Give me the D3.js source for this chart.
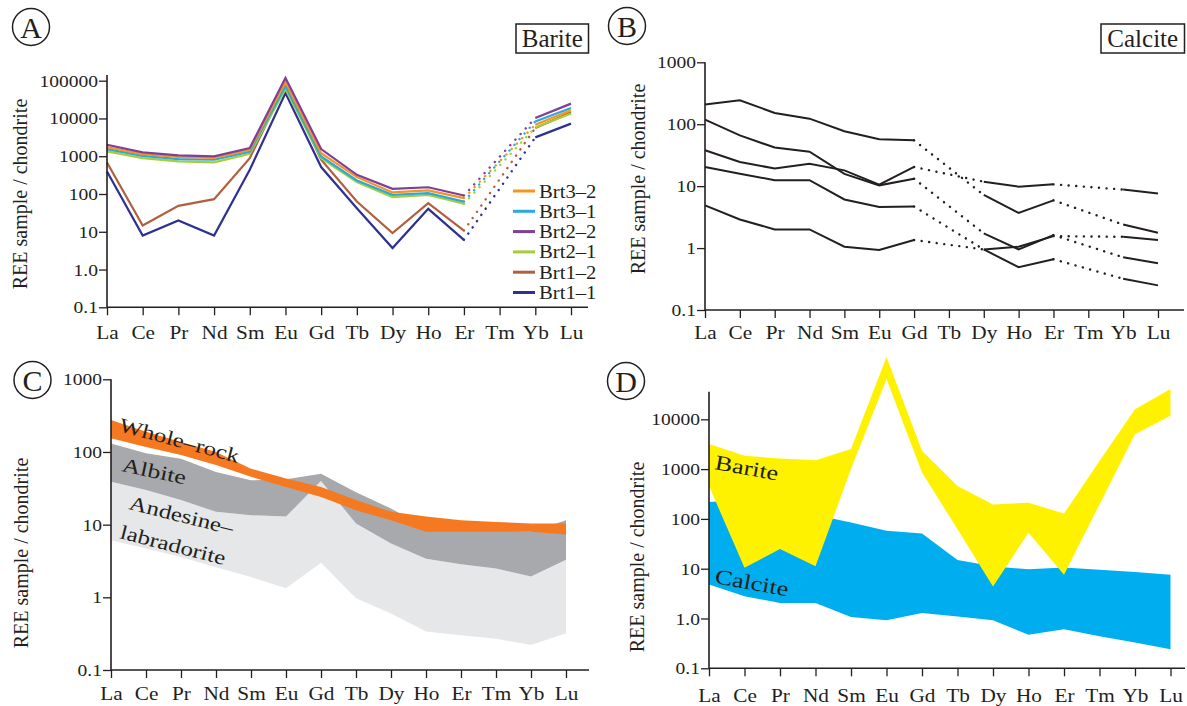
<!DOCTYPE html>
<html><head><meta charset="utf-8">
<script src="https://cdn.jsdelivr.net/npm/d3@7"></script>
<style>
body{margin:0;background:#fff;}
svg{display:block;}
</style>
</head><body>
<svg id="chart" width="1187" height="706" font-family="Liberation Serif, DejaVu Serif, serif"></svg>
<script>
// ---------- DATA ----------
const elements = ["La","Ce","Pr","Nd","Sm","Eu","Gd","Tb","Dy","Ho","Er","Tm","Yb","Lu"];

// Panel A : barite samples (Tm not analysed)
const bariteNames  = ["Brt3–2","Brt3–1","Brt2–2","Brt2–1","Brt1–2","Brt1–1"];
const bariteColors = ["#f7941d","#27aae1","#7f3f98","#a6ce39","#b0603c","#2e3192"];
const brt3_2 = [1740,1140,955,900,1480,91000,1200,280,110,124,78,null,6860,16400];
const brt3_1 = [1550,1025,840,807,1320,71000,990,229,95,105,63,null,8350,19000];
const brt2_2 = [2020,1260,1050,990,1650,118000,1550,323,137,151,91,null,10300,24700];
const brt2_1 = [1340,890,728,685,1165,60000,890,207,83,95,55,null,5800,13500];
const brt1_2 = [685,14.6,48.6,73,890,80000,807,63,9.2,57.5,10.8,null,5600,14500];
const brt1_1 = [395,7.9,19.8,7.9,438,47000,516,42,3.7,40.5,6.1,null,3160,7300];
const bariteValues = [brt3_2,brt3_1,brt2_2,brt2_1,brt1_2,brt1_1];

// Panel B : calcite samples (Tb, Tm not analysed)
const cal1 = [209,244,152,123,77,57,55,null,7.2,3.7,5.9,null,2.4,1.77];
const cal2 = [119,66,42,36,15.8,10.3,13.2,null,1.73,0.95,1.62,null,0.71,0.57];
const cal3 = [38,24.5,19.3,23,18,10.6,20.4,null,11.8,9.8,10.7,null,8.8,7.6];
const cal4 = [20.4,15.8,12.5,12.5,6.1,4.6,4.7,null,0.95,1.05,1.56,null,1.52,1.35];
const cal5 = [4.9,2.9,2.0,2.0,1.05,0.93,1.35,null,0.95,0.49,0.66,null,0.32,0.25];
const calciteValues = [cal1,cal2,cal3,cal4,cal5];

// Panel C : fields
const wholeRockUpper = [275,190,137,100,59,43,33,21.8,15,12.9,11.5,10.9,10.4,10.4];
const wholeRockLower = [154,117,91,66,45.5,33,24,15.8,11.5,8.0,8.0,8.0,8.0,7.3];
const albiteUpper    = [131,96,81,53,40.8,42,50,28,16.7,9,8.5,8.3,8,11.5];
const albiteLower    = [39,30,21.8,15,13.5,12.9,40,10.4,5.5,3.4,2.85,2.5,1.93,3.3];
const andesineLower  = [6.1,4.7,3.6,2.6,1.9,1.33,3.0,0.97,0.6,0.34,0.3,0.27,0.22,0.32];

// Panel D : fields
const bariteUpper  = [3180,1850,1630,1500,2520,178000,2330,458,195,212,128,1450,16000,40800];
const bariteLower  = [458,10.4,25,11.2,1000,64500,850,62,4.4,52.6,7.6,195,5000,11800];
const calciteUpper = [218,240,150,120,85,58,51,15,11.2,9.7,10.6,9.5,8.6,7.6];
const calciteLower = [4.8,2.8,2.05,2.05,1.07,0.92,1.29,1.1,0.92,0.47,0.61,0.44,0.33,0.24];

// ---------- DRAWING ----------
const ink = "#231f20";
const FONT = "Liberation Serif, DejaVu Serif, serif";
const svg = d3.select("#chart");

function makePanel(cfg){
  const g = svg.append("g");
  const x = d3.scalePoint().domain(elements).range([cfg.x0, cfg.x1]);
  const y = d3.scaleLog().domain(cfg.domain).range([cfg.yBot, cfg.yTop]);
  return {g, x, y, cfg};
}

function txt(sel){ return sel.attr("font-family", FONT).attr("fill", ink); }

function drawAxes(p){
  const {g, x, y, cfg} = p;
  const ya = g.append("g").attr("transform", `translate(${cfg.x0},0)`)
    .call(d3.axisLeft(y).tickValues(cfg.tickVals).tickFormat((d,i)=>cfg.tickLabels[i]).tickSize(8).tickSizeOuter(0));
  ya.attr("font-family", FONT);
  ya.select(".domain").remove();
  ya.selectAll(".tick line").attr("stroke", ink).attr("stroke-width", 1.3);
  txt(ya.selectAll(".tick text")).attr("x", null).attr("dy", null)
    .attr("transform", "translate(-9,5.5) scale(1.22,1)")
    .attr("text-anchor","end").attr("font-size", 16);
  const xa = g.append("g").attr("transform", `translate(0,${cfg.yBot})`)
    .call(d3.axisBottom(x).tickSize(8).tickSizeOuter(0));
  xa.attr("font-family", FONT);
  xa.select(".domain").remove();
  xa.selectAll(".tick line").attr("stroke", ink).attr("stroke-width", 1.3);
  txt(xa.selectAll(".tick text")).attr("y", null).attr("dy", null)
    .attr("transform", `translate(0,${cfg.labelBase - cfg.yBot}) scale(1.12,1)`)
    .attr("text-anchor","middle").attr("font-size", 19);
  g.append("line").attr("x1", cfg.x0).attr("x2", cfg.x0).attr("y1", cfg.yBot).attr("y2", cfg.yAxisTop)
    .attr("stroke", ink).attr("stroke-width", 1.6);
  g.append("line").attr("x1", cfg.x0).attr("x2", cfg.xAxisEnd).attr("y1", cfg.yBot).attr("y2", cfg.yBot)
    .attr("stroke", ink).attr("stroke-width", 1.6);
  txt(svg.append("text")).attr("transform", `translate(${cfg.titleX},${cfg.titleY}) rotate(-90)`)
    .attr("text-anchor","middle").attr("font-size", 20).text("REE sample / chondrite");
  svg.append("circle").attr("cx", cfg.circle[0]).attr("cy", cfg.circle[1]).attr("r", 18.5)
    .attr("fill","none").attr("stroke", ink).attr("stroke-width", 1.5);
  txt(svg.append("text")).attr("x", cfg.circle[0]).attr("y", cfg.circle[1] + 10.5)
    .attr("text-anchor","middle").attr("font-size", 30).text(cfg.letter);
}

function drawSeries(p, vals, color, width){
  const {g, x, y} = p;
  const pts = vals.map((v,i)=>({e: elements[i], v}));
  const line = d3.line().defined(d=>d.v!=null).x(d=>x(d.e)).y(d=>y(d.v));
  g.append("path").datum(pts).attr("d", line).attr("fill","none")
    .attr("stroke", color).attr("stroke-width", width).attr("stroke-linejoin","miter");
  const def = pts.filter(d=>d.v!=null);
  for(let k=0;k<def.length-1;k++){
    const a = def[k], b = def[k+1];
    if(elements.indexOf(b.e) - elements.indexOf(a.e) > 1){
      g.append("path").datum([a,b]).attr("d", d3.line().x(d=>x(d.e)).y(d=>y(d.v)))
        .attr("fill","none").attr("stroke", color).attr("stroke-width", 2.4)
        .attr("stroke-linecap","round").attr("stroke-dasharray","0.1,7.5");
    }
  }
}

function drawArea(p, lower, upper, color){
  const {g, x, y} = p;
  const pts = elements.map((e,i)=>({e, lo: lower[i], hi: upper[i]}));
  g.append("path").datum(pts)
    .attr("d", d3.area().x(d=>x(d.e)).y0(d=>y(d.lo)).y1(d=>y(d.hi)))
    .attr("fill", color).attr("stroke","none");
}

function slantText(x, y, angle, str, size, sx){
  txt(svg.append("text")).attr("transform", `translate(${x},${y}) rotate(${angle}) scale(${sx},1)`)
    .attr("font-size", size).text(str);
}

function boxLabel(x0, x1, y0, y1, str){
  svg.append("rect").attr("x", x0).attr("y", y0).attr("width", x1-x0).attr("height", y1-y0)
    .attr("fill","none").attr("stroke", ink).attr("stroke-width", 1.5);
  txt(svg.append("text")).attr("x", (x0+x1)/2).attr("y", y1 - 6.5).attr("text-anchor","middle")
    .attr("font-size", 25).text(str);
}

// ---- Panel A ----
const pA = makePanel({x0:107, x1:571, yTop:80.7, yBot:307.3, domain:[0.1,100000]});
[5,4,3,1,0,2].forEach(i => drawSeries(pA, bariteValues[i], bariteColors[i], 2.2));
Object.assign(pA.cfg, {
  tickVals:[0.1,1,10,100,1000,10000,100000],
  tickLabels:["0.1","1.0","10","100","1000","10000","100000"],
  xAxisEnd:588, yAxisTop:75, labelBase:339, titleX:27, titleY:194,
  circle:[31,27], letter:"A"});
drawAxes(pA);
boxLabel(516, 588.5, 24, 53, "Barite");
bariteNames.forEach((n,i)=>{
  const yy = 191 + i*20.3;
  svg.append("line").attr("x1",513).attr("x2",535).attr("y1",yy).attr("y2",yy)
    .attr("stroke", bariteColors[i]).attr("stroke-width", 3);
  txt(svg.append("text")).attr("transform", `translate(539,${yy+6.5}) scale(1.15,1)`)
    .attr("font-size", 18).text(n);
});

// ---- Panel B ----
const pB = makePanel({x0:705, x1:1158, yTop:62.3, yBot:310, domain:[0.1,1000]});
calciteValues.forEach(v => drawSeries(pB, v, ink, 2));
Object.assign(pB.cfg, {
  tickVals:[0.1,1,10,100,1000],
  tickLabels:["0.1","1","10","100","1000"],
  xAxisEnd:1184, yAxisTop:62.3, labelBase:339, titleX:645, titleY:179,
  circle:[627,26], letter:"B"});
drawAxes(pB);
boxLabel(1101, 1184.5, 24, 53, "Calcite");

// ---- Panel C ----
const pC = makePanel({x0:111, x1:566, yTop:379.3, yBot:670, domain:[0.1,1000]});
drawArea(pC, andesineLower, albiteLower, "#e6e7e8");
drawArea(pC, albiteLower, albiteUpper, "#a7a9ac");
drawArea(pC, wholeRockLower, wholeRockUpper, "#f47920");
Object.assign(pC.cfg, {
  tickVals:[0.1,1,10,100,1000],
  tickLabels:["0.1","1","10","100","1000"],
  xAxisEnd:589, yAxisTop:379.3, labelBase:700, titleX:28, titleY:553,
  circle:[32.5,380], letter:"C"});
drawAxes(pC);
slantText(118, 431, 15, "Whole–rock", 20, 1.25);
slantText(121, 471, 12, "Albite", 20, 1.3);
slantText(128, 509, 14, "Andesine–", 20, 1.25);
slantText(119, 538, 14.5, "labradorite", 20, 1.25);

// ---- Panel D ----
const pD = makePanel({x0:709, x1:1170.5, yTop:419.3, yBot:668.3, domain:[0.1,10000]});
drawArea(pD, calciteLower, calciteUpper, "#00aeef");
drawArea(pD, bariteLower, bariteUpper, "#fff200");
Object.assign(pD.cfg, {
  tickVals:[0.1,1,10,100,1000,10000],
  tickLabels:["0.1","1.0","10","100","1000","10000"],
  xAxisEnd:1185, yAxisTop:391.7, labelBase:702, titleX:644, titleY:557,
  circle:[626,381], letter:"D"});
drawAxes(pD);
slantText(714, 469, 10.4, "Barite", 21, 1.25);
slantText(714, 583, 10.3, "Calcite", 21, 1.25);
</script>
</body></html>
